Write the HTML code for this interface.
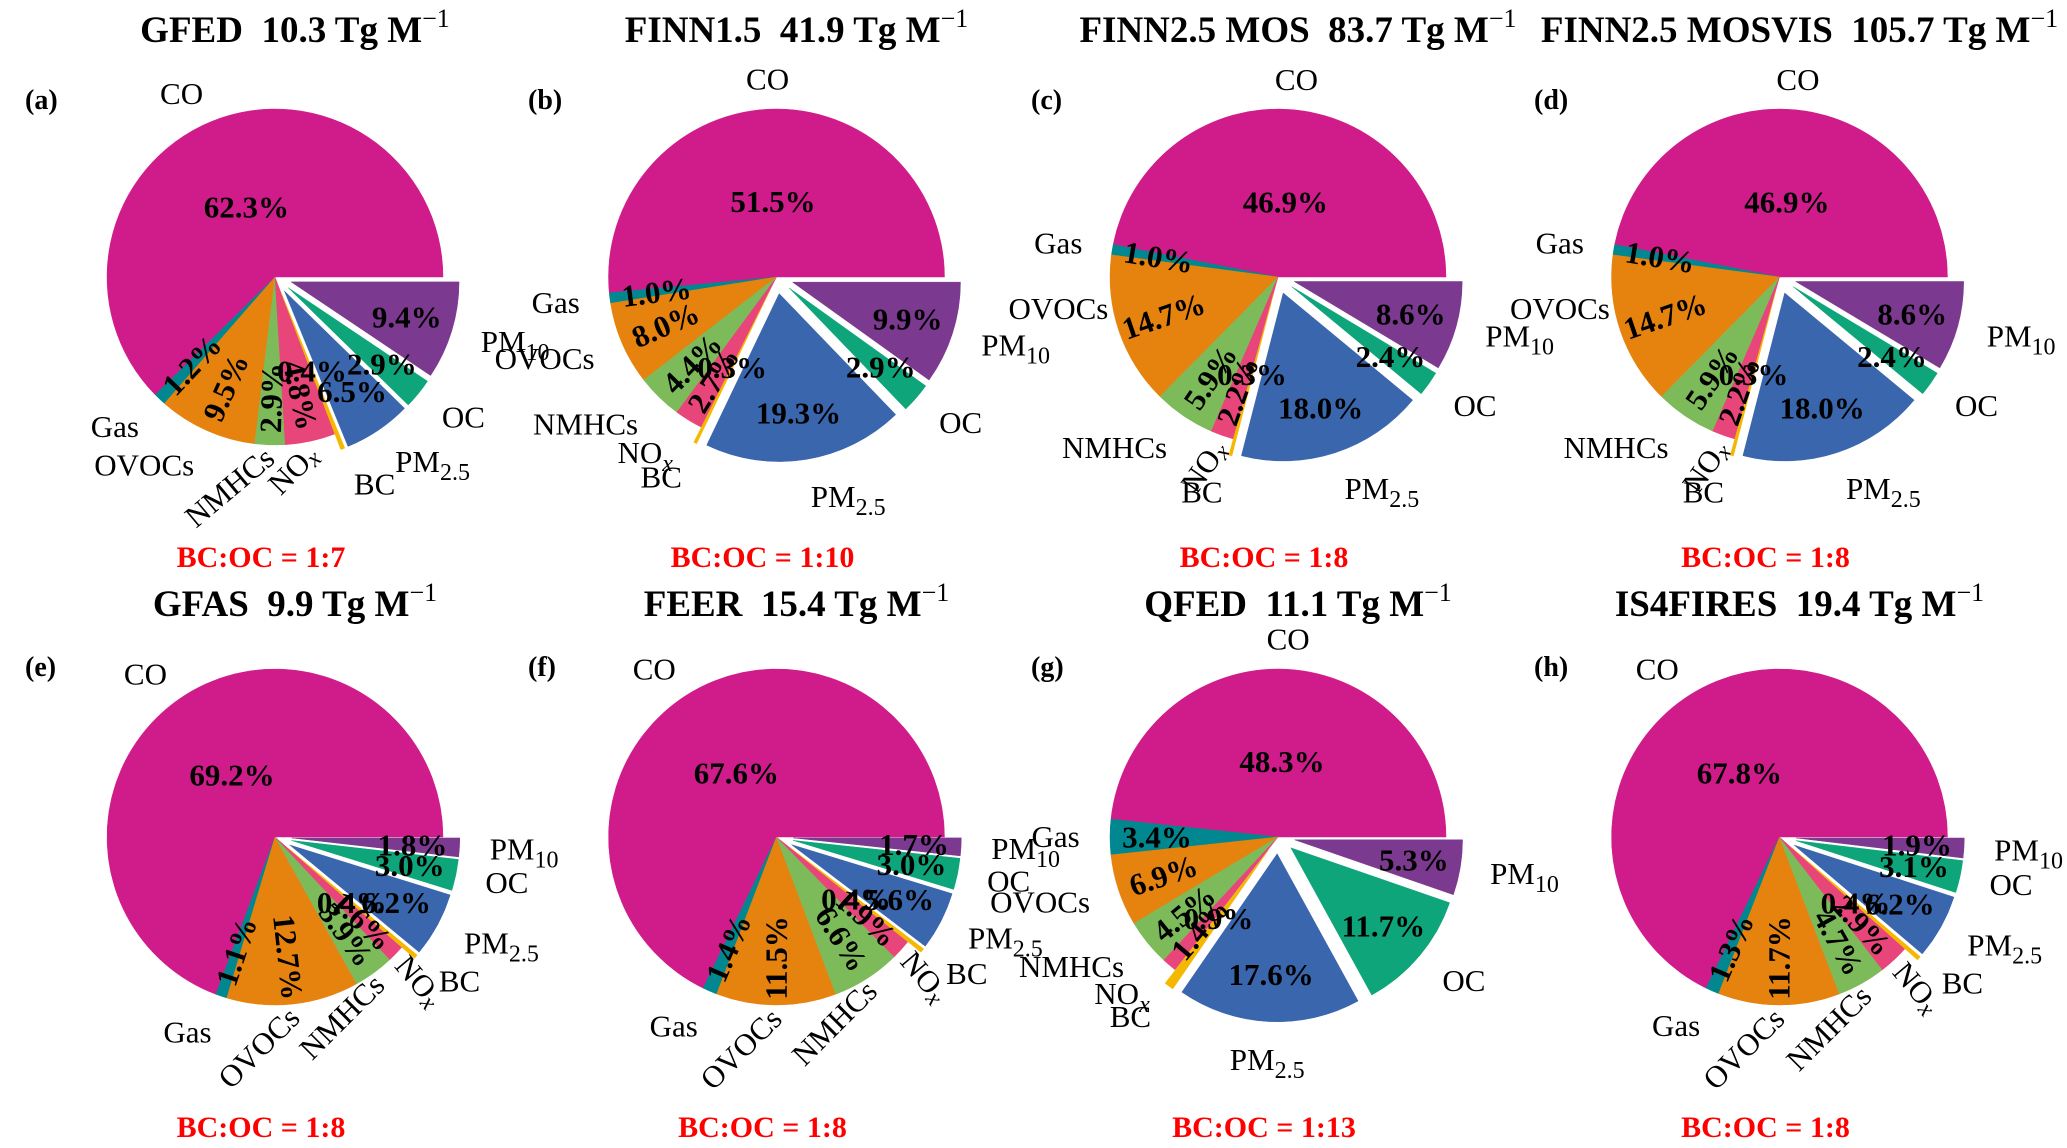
<!DOCTYPE html>
<html><head><meta charset="utf-8">
<style>
html,body{margin:0;padding:0;background:#fff;}
svg{display:block;font-family:"Liberation Serif","Times New Roman",serif;}
</style></head>
<body>
<svg id="fig" width="2067" height="1148" viewBox="0 0 2067 1148" xmlns="http://www.w3.org/2000/svg"></svg>
<script>
const categories = ["CO","Gas","OVOCs","NMHCs","NOx","BC","PM2.5","OC","PM10"];
const panelLetters = ["a","b","c","d","e","f","g","h"];
const inventoryNames = ["GFED","FINN1.5","FINN2.5 MOS","FINN2.5 MOSVIS","GFAS","FEER","QFED","IS4FIRES"];
const totalsTg = ["10.3","41.9","83.7","105.7","9.9","15.4","11.1","19.4"];
const bcOcRatios = ["1:7","1:10","1:8","1:8","1:8","1:8","1:13","1:8"];
const valsA = [62.3,1.2,9.5,2.9,4.8,0.4,6.5,2.9,9.4];
const valsB = [51.5,1.0,8.0,4.4,2.7,0.3,19.3,2.9,9.9];
const valsC = [46.9,1.0,14.7,5.9,2.2,0.3,18.0,2.4,8.6];
const valsD = [46.9,1.0,14.7,5.9,2.2,0.3,18.0,2.4,8.6];
const valsE = [69.2,1.1,12.7,3.9,1.6,0.4,6.2,3.0,1.8];
const valsF = [67.6,1.4,11.5,6.6,1.9,0.4,5.6,3.0,1.7];
const valsG = [48.3,3.4,6.9,4.5,1.4,0.9,17.6,11.7,5.3];
const valsH = [67.8,1.3,11.7,4.7,2.9,0.4,6.2,3.1,1.9];
const allVals = [valsA,valsB,valsC,valsD,valsE,valsF,valsG,valsH];
// rotated category labels per panel: [categoryIndex, rotationDeg]
const rotatedCats = [
  [[3,-40],[4,-45]], [], [[4,-55]], [[4,-55]],
  [[2,-45],[3,-45],[4,50]], [[2,-45],[3,-45],[4,50]], [], [[2,-45],[3,-45],[4,50]]
];
// label angle overrides per panel: [categoryIndex, angleDeg, distance]
const labelOverrides = [[], [], [[2,188,1.32]], [[2,188,1.32]], [], [], [], []];

const colors = ["#d01c8b","#00878f","#e6820e","#7dbb5a","#e8457a","#f5b800","#3a66ad","#0fa57a","#7b3a8f"];
const explode = [0,0,0,0,0,0.1,0.1,0.1,0.1];
const NS = "http://www.w3.org/2000/svg";
const svg = document.getElementById("fig");
const R = 168;

function mk(tag, attrs, parent){
  const e = document.createElementNS(NS, tag);
  for (const k in attrs) e.setAttribute(k, attrs[k]);
  (parent||svg).appendChild(e);
  return e;
}
function slug(s){return s.toLowerCase().replace(/[^a-z0-9]+/g,"-").replace(/^-|-$/g,"");}
function radialRot(midRad){
  let rot = -midRad * 180 / Math.PI;
  while (rot > 90) rot -= 180;
  while (rot < -90) rot += 180;
  return rot;
}
function addCatText(t, name){
  if (name === "PM2.5" || name === "PM10"){
    const a = mk("tspan", {}, t); a.textContent = "PM";
    const b = mk("tspan", {"font-size":"24", dy:"8"}, t); b.textContent = name.slice(2);
  } else if (name === "NOx"){
    const a = mk("tspan", {}, t); a.textContent = "NO";
    const b = mk("tspan", {"font-size":"24", dy:"8", "font-style":"italic"}, t); b.textContent = "x";
  } else t.textContent = name;
}

allVals.forEach((vals, p) => {
  const col = p % 4, row = Math.floor(p / 4);
  const cx = 275 + col * 501.5;
  const cy = row ? 837 : 277;
  const L = panelLetters[p];
  const g = mk("g", {});
  
  

  const title = mk("text", {x: cx + 20, y: (row ? 603 : 29) + 13, "text-anchor":"middle", "font-size":"37", "font-weight":"bold"}, g);
  
  
  const t1 = mk("tspan", {}, title); t1.textContent = inventoryNames[p] + "\u00a0\u00a0" + totalsTg[p] + " Tg M";
  const t2 = mk("tspan", {"font-size":"26", dy:"-15", "font-weight":"normal"}, title); t2.textContent = "\u22121";

  const lt = mk("text", {x: 25 + col * 503, y: (row ? 666 : 99) + 10, "font-size":"28", "font-weight":"bold"}, g);
  
  
  lt.textContent = "(" + L + ")";

  const rt = mk("text", {x: cx - 14, y: (row ? 1129 : 559) + 8, "text-anchor":"middle", "font-size":"30", "font-weight":"bold", fill:"#ff0000"}, g);
  
  
  rt.textContent = "BC:OC = " + bcOcRatios[p];

  const total = vals.reduce((s, v) => s + v, 0);
  let a0 = 0;
  const labels = [];
  vals.forEach((v, i) => {
    const span = v / total * 360;
    const a1 = a0 + span;
    const mid = (a0 + a1) / 2 * Math.PI / 180;
    const ox = cx + explode[i] * R * Math.cos(mid);
    const oy = cy - explode[i] * R * Math.sin(mid);
    const r0 = a0 * Math.PI / 180, r1 = a1 * Math.PI / 180;
    const x0 = ox + R * Math.cos(r0), y0 = oy - R * Math.sin(r0);
    const x1 = ox + R * Math.cos(r1), y1 = oy - R * Math.sin(r1);
    const d = `M${ox},${oy} L${x0},${y0} A${R},${R} 0 ${span > 180 ? 1 : 0} 0 ${x1},${y1} Z`;
    const path = mk("path", {d: d, fill: colors[i], stroke: colors[i], "stroke-width":"0.5"}, g);
    
    

    const pd = i === 0 ? 0.45 : (i === 5 ? 0.5 : 0.72);
    const px = ox + pd * R * Math.cos(mid), py = oy - pd * R * Math.sin(mid);
    const rot = (i >= 1 && i <= 4) ? radialRot(mid) : 0;
    labels.push({x: px, y: py, rot: rot, txt: v.toFixed(1) + "%", i: i});

    const rc = rotatedCats[p].find(e => e[0] === i);
    const ov = labelOverrides[p].find(e => e[0] === i);
    let ct;
    if (rc){
      const ld = 1.05;
      const lx = ox + ld * R * Math.cos(mid), ly = oy - ld * R * Math.sin(mid);
      const rr = rc[1];
      ct = mk("text", {x: lx, y: ly, "text-anchor": rr < 0 ? "end" : "start", "dominant-baseline":"central", "font-size":"31", transform:`rotate(${rr} ${lx} ${ly})`}, g);
    } else {
      const la = ov ? ov[1] * Math.PI / 180 : mid;
      const ld = ov ? ov[2] : (i === 0 ? 1.13 : 1.18);
      const c = Math.cos(la);
      const lx = ox + ld * R * Math.cos(la), ly = oy - ld * R * Math.sin(la);
      const anchor = ov ? "middle" : (Math.abs(c) < 0.15 ? "middle" : (c > 0 ? "start" : "end"));
      ct = mk("text", {x: lx, y: ly + 10 - 8 * Math.sin(la), "text-anchor": anchor, "font-size":"31"}, g);
    }
    
    
    addCatText(ct, categories[i]);
    a0 = a1;
  });
  labels.forEach(lb => {
    const pt = mk("text", {x: lb.x, y: lb.y, "text-anchor":"middle", "dominant-baseline":"central", "font-size":"31", "font-weight":"bold", transform:`rotate(${lb.rot} ${lb.x} ${lb.y})`}, g);
    
    
    pt.textContent = lb.txt;
  });
});
</script>
</body></html>
